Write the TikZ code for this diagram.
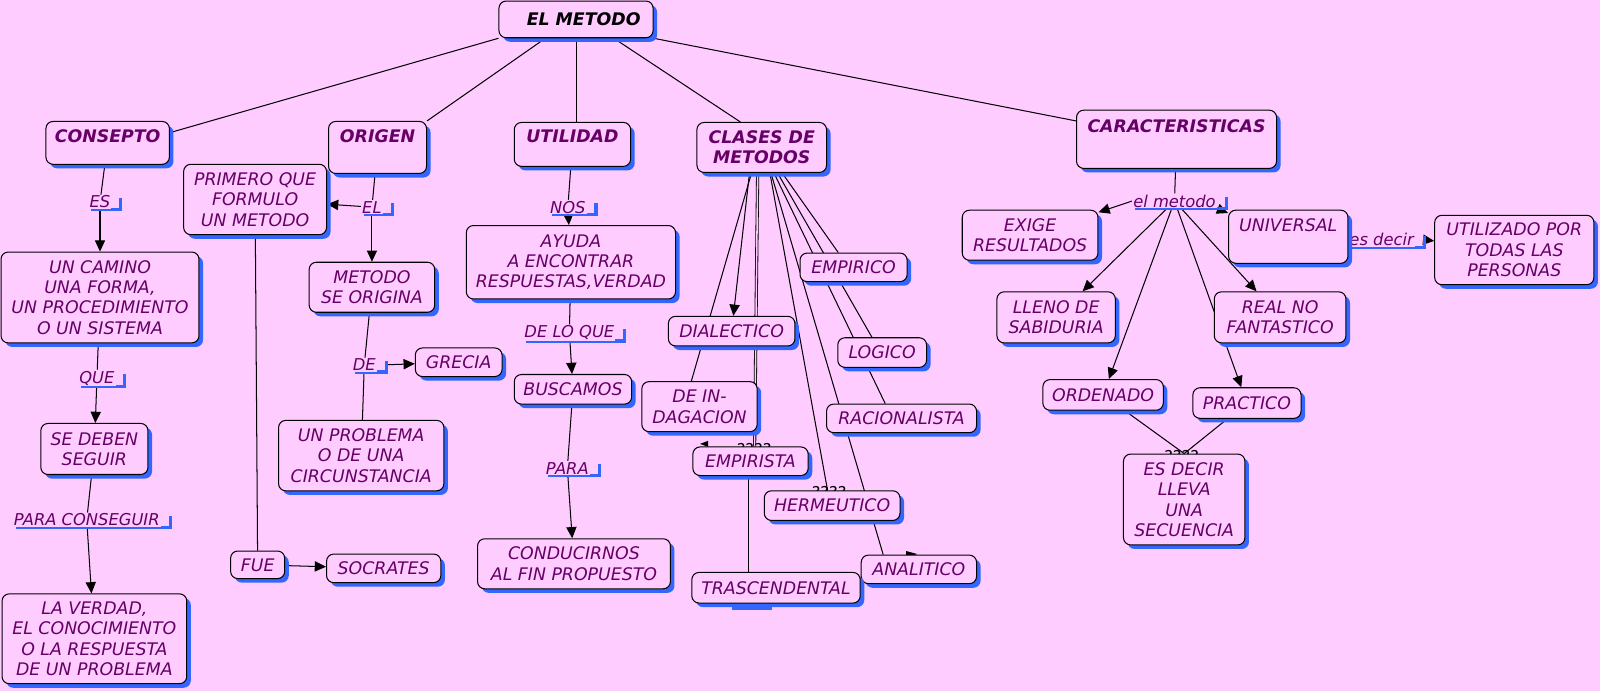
\documentclass[tikz,border=0pt]{standalone}
\usepackage{fontspec}
\setmainfont{DejaVu Sans}[ItalicFont={DejaVu Sans Oblique},BoldFont={DejaVu Sans Bold},BoldItalicFont={DejaVu Sans Bold Oblique}]
\usetikzlibrary{arrows.meta,shadows}

\definecolor{rosa}{RGB}{255,204,255}
\definecolor{azul}{RGB}{51,102,255}
\definecolor{morado}{RGB}{102,0,102}

\pgfdeclarelayer{fondo}
\pgfdeclarelayer{lineas}
\pgfsetlayers{fondo,lineas,main}

\tikzset{
  caja/.style={draw=black, line width=1pt, rounded corners=7pt, fill=rosa, inner sep=2pt,
    align=center, text=morado, font=\fontsize{17}{20}\selectfont\itshape,
    drop shadow={shadow xshift=4pt, shadow yshift=-4pt, fill=azul, opacity=1}},
  titulo/.style={caja, font=\fontsize{17}{20}\selectfont\bfseries\itshape},
  enlace/.style={fill=rosa, inner sep=1pt, text=morado, font=\fontsize{16}{20}\selectfont\itshape,
    append after command={\pgfextra{\begin{pgfinterruptpath}
      \draw[azul, line width=3pt] ([xshift=3pt]\tikzlastnode.south west) -| ([xshift=9pt,yshift=4pt]\tikzlastnode.east);
    \end{pgfinterruptpath}}}},
  linea/.style={line width=1pt},
  flecha/.style={linea, -{Triangle[length=11pt,width=10pt]}},
  marcas/.style={font=\fontsize{16}{16}\selectfont}
}

\begin{document}
\begin{tikzpicture}[x=1pt,y=-1pt]
  \useasboundingbox (0,0) rectangle (1568,677);
  \begin{pgfonlayer}{fondo}
    \fill[rosa] (0,0) rectangle (1568,677);
  \end{pgfonlayer}

  % marks half hidden behind the boxes
  \node[marcas] (q1) at (739,440) {????};
  \node[marcas] (q2) at (812.5,483) {????};
  \node[marcas] (q3) at (1158,447) {????};
  \fill (686,435) -- (694,432) -- (694,438) -- cycle;
  \fill (899,543) -- (888,540) -- (888,546) -- cycle;
  \fill[azul] (717,592) rectangle (757,598);

  \node[titulo, text=black, minimum width=151pt, minimum height=36pt] (metodo) at (564.5,19) {\hspace*{15pt}EL METODO};

  \node[titulo, minimum width=121pt, minimum height=42pt, text depth=14pt] (consepto) at (105.5,140) {CONSEPTO};
  \node[titulo, minimum width=96pt, minimum height=51pt, text depth=23pt] (origen) at (370,144.5) {ORIGEN};
  \node[titulo, minimum width=114pt, minimum height=43pt, text depth=17pt] (utilidad) at (561,141.5) {UTILIDAD};
  \node[titulo, minimum width=127pt, minimum height=49pt] (clases) at (746.5,144.5) {CLASES DE\\METODOS};
  \node[titulo, minimum width=196pt, minimum height=57pt, text depth=25pt] (caract) at (1153,136.5) {CARACTERISTICAS};

  % consepto
  \node[enlace] (es1) at (98,198) {ES};
  \node[caja, minimum width=194pt, minimum height=89pt] (camino) at (98,291.5) {UN CAMINO\\UNA FORMA,\\UN PROCEDIMIENTO\\O UN SISTEMA};
  \node[enlace] (que) at (95,370.5) {QUE};
  \node[caja, minimum width=105pt, minimum height=50pt] (sedeben) at (92.5,440) {SE DEBEN\\SEGUIR};
  \node[enlace] (paracons) at (85,509.5) {PARA CONSEGUIR};
  \node[caja, minimum width=181pt, minimum height=88pt] (verdad) at (92.5,626) {LA VERDAD,\\EL CONOCIMIENTO\\O LA RESPUESTA\\DE UN PROBLEMA};

  % origen
  \node[caja, minimum width=140pt, minimum height=69pt] (primero) at (250,195.5) {PRIMERO QUE\\FORMULO\\UN METODO};
  \node[enlace] (el) at (364.5,203) {EL};
  \node[caja, minimum width=123pt, minimum height=49pt] (origina) at (364.5,281.5) {METODO\\SE ORIGINA};
  \node[enlace] (de) at (357,357.5) {DE};
  \node[caja, minimum width=85pt, minimum height=28pt] (grecia) at (449.5,355) {GRECIA};
  \node[caja, minimum width=162pt, minimum height=69pt] (problema) at (354,446.5) {UN PROBLEMA\\O DE UNA\\CIRCUNSTANCIA};
  \node[caja, minimum width=53pt, minimum height=27pt] (fue) at (252.5,553.5) {FUE};
  \node[caja, minimum width=112pt, minimum height=28pt] (socrates) at (376,557) {SOCRATES};

  % utilidad
  \node[enlace] (nos) at (556.5,203) {NOS};
  \node[caja, minimum width=205pt, minimum height=72pt] (ayuda) at (559.5,257) {AYUDA\\A ENCONTRAR\\RESPUESTAS,VERDAD};
  \node[enlace] (delo) at (558,326) {DE LO QUE};
  \node[caja, minimum width=115pt, minimum height=29pt] (buscamos) at (561.5,381.5) {BUSCAMOS};
  \node[enlace] (para) at (556,459) {PARA};
  \node[caja, minimum width=189pt, minimum height=49pt] (conducir) at (562.5,552.5) {CONDUCIRNOS\\AL FIN PROPUESTO};

  % clases de metodos
  \node[caja, minimum width=105pt, minimum height=28pt] (empirico) at (836.5,262) {EMPIRICO};
  \node[caja, minimum width=124pt, minimum height=29pt] (dialectico) at (717,324.5) {DIALECTICO};
  \node[caja, minimum width=87pt, minimum height=29pt] (logico) at (864.5,345.5) {LOGICO};
  \node[caja, minimum width=113pt, minimum height=49pt] (indagacion) at (685.5,398.5) {DE IN-\\DAGACION};
  \node[caja, minimum width=147pt, minimum height=28pt] (racionalista) at (883.5,410) {RACIONALISTA};
  \node[caja, minimum width=113pt, minimum height=28pt] (empirista) at (735.5,452) {EMPIRISTA};
  \node[caja, minimum width=133pt, minimum height=29pt] (hermeutico) at (815.5,495.5) {HERMEUTICO};
  \node[caja, minimum width=113pt, minimum height=28pt] (analitico) at (900.5,558) {ANALITICO};
  \node[caja, minimum width=165pt, minimum height=30pt] (trascendental) at (760.5,576) {TRASCENDENTAL};

  % caracteristicas
  \node[enlace] (elmet) at (1151,197) {el metodo};
  \node[caja, minimum width=133pt, minimum height=49pt] (exige) at (1009.5,230.5) {EXIGE\\RESULTADOS};
  \node[enlace] (esdecirlab) at (1354,235) {es decir};
  \node[caja, minimum width=117pt, minimum height=52pt, text depth=23pt] (universal) at (1262.5,232) {UNIVERSAL};
  \node[caja, minimum width=156pt, minimum height=68pt] (utilizado) at (1484,245) {UTILIZADO POR\\TODAS LAS\\PERSONAS};
  \node[caja, minimum width=116pt, minimum height=50pt] (lleno) at (1035,311) {LLENO DE\\SABIDURIA};
  \node[caja, minimum width=129pt, minimum height=50pt] (real) at (1254.5,311) {REAL NO\\FANTASTICO};
  \node[caja, minimum width=118pt, minimum height=30pt] (ordenado) at (1081,387) {ORDENADO};
  \node[caja, minimum width=106pt, minimum height=30pt] (practico) at (1222,395) {PRACTICO};
  \node[caja, minimum width=119pt, minimum height=89pt] (esdecir) at (1160.5,489.5) {ES DECIR\\LLEVA\\UNA\\SECUENCIA};

  \begin{pgfonlayer}{lineas}
    \draw[linea] (metodo.south west) -- ([yshift=10pt]consepto.east);
    \draw[linea] ([xshift=-30pt]metodo.south) -- (origen.north east);
    \draw[linea] (metodo.south) -- (metodo.south |- utilidad.north);
    \draw[linea] ([xshift=37pt]metodo.south) -- ([xshift=-21pt]clases.north);
    \draw[linea] (metodo.south east) -- ([yshift=18pt]caract.west);

    \draw[linea] (consepto) -- (es1);
    \draw[flecha] (es1) -- (camino);
    \draw[linea] (camino) -- (que);
    \draw[flecha] (que) -- (sedeben);
    \draw[linea] (sedeben) -- (paracons);
    \draw[flecha] (paracons) -- (verdad);

    \draw[linea] (origen) -- (el);
    \draw[flecha] (el) -- (origina);
    \draw[flecha] (el) -- (primero);
    \draw[linea] (primero) -- (fue);
    \draw[flecha] (fue) -- (socrates);
    \draw[linea] (origina) -- (de);
    \draw[linea] (de) -- (problema);
    \draw[flecha] ([xshift=9pt]de.east) -- (grecia);

    \draw[linea] (utilidad) -- (nos);
    \draw[flecha] (nos) -- (ayuda);
    \draw[linea] (ayuda) -- (delo);
    \draw[flecha] (delo) -- (buscamos);
    \draw[linea] (buscamos) -- (para);
    \draw[flecha] (para) -- (conducir);

    \draw[flecha] ([xshift=-12pt]clases.south) -- (dialectico);
    \draw[linea] ([xshift=-10pt]clases.south) -- ([xshift=-8pt]indagacion.north);
    \draw[linea, line width=0.8pt, double=rosa, double distance=1.5pt] ([xshift=-4pt]clases.south) -- ([xshift=4pt]empirista.north);
    \draw[linea] ([xshift=8pt]clases.south) -- ([xshift=-4.5pt]hermeutico.north);
    \draw[linea] ([xshift=9pt]clases.south) -- ([xshift=-35pt]analitico.north);
    \draw[linea] ([xshift=12pt]clases.south) -- ([xshift=-16pt]racionalista.north);
    \draw[linea] ([xshift=15.5pt]clases.south) -- ([xshift=-10pt]logico.north);
    \draw[linea] ([xshift=20pt]clases.south) -- ([xshift=-15pt]empirico.north);
    \draw[linea] ([xshift=-2pt]empirista.south) -- ([xshift=-27pt]trascendental.north);

    \draw[linea] (caract) -- (elmet);
    \draw[flecha] (elmet.west) -- (exige);
    \draw[flecha] (elmet.south east) -- (universal);
    \draw[flecha] (elmet) -- (lleno);
    \draw[flecha] (elmet) -- (ordenado);
    \draw[flecha] (elmet) -- (practico);
    \draw[flecha] (elmet) -- (real);
    \draw[linea] (ordenado) -- (esdecir.north);
    \draw[linea] (practico) -- (esdecir.north);
    \draw[flecha] ([xshift=9pt]esdecirlab.east) -- (utilizado);
  \end{pgfonlayer}
\end{tikzpicture}
\end{document}
